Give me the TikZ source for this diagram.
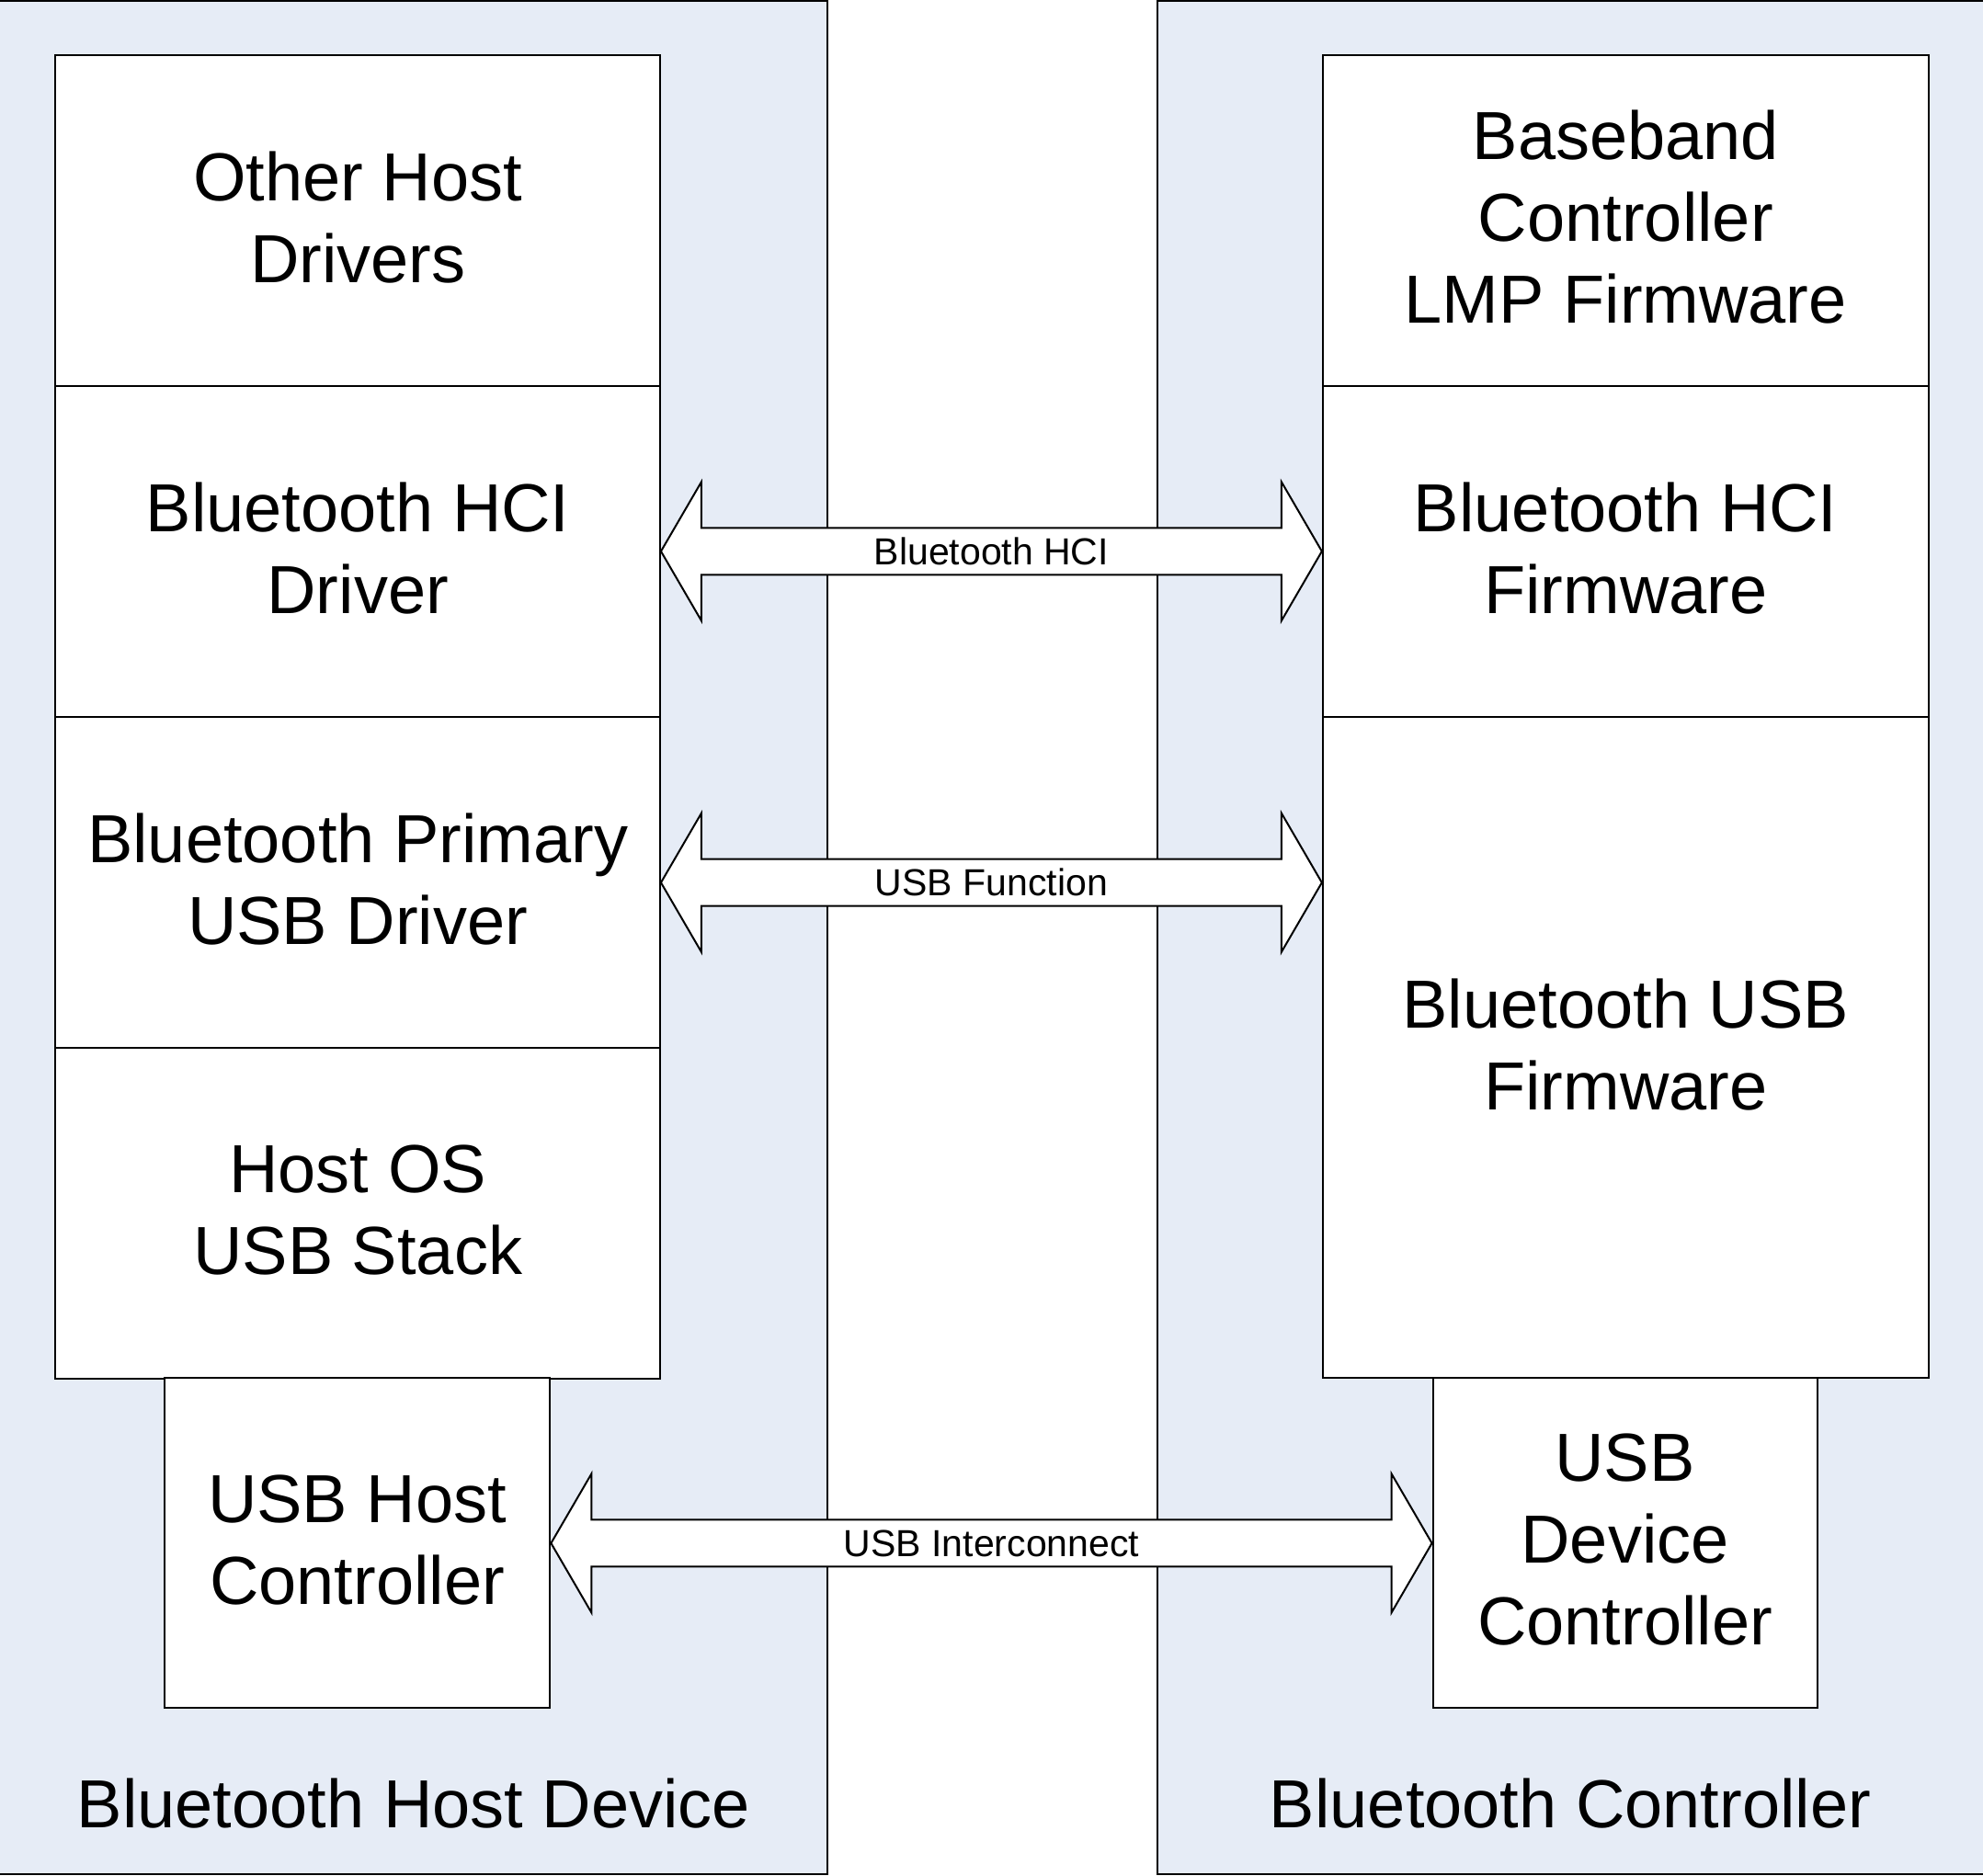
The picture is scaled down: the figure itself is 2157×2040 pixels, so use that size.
\documentclass[tikz,border=0pt]{standalone}
\usepackage{fontspec}
\setmainfont{Liberation Sans}
\usetikzlibrary{calc}
\definecolor{panelblue}{RGB}{230,236,246}
\tikzset{
  panel/.style={fill=panelblue, draw=black, line width=2pt},
  blk/.style={draw=black, fill=white, line width=2pt, inner sep=0pt, align=center,
    font=\fontsize{74}{89}\selectfont},
  blktext/.style={inner sep=0pt, align=center, font=\fontsize{74}{89}\selectfont},
  arrowshape/.style={draw=black, fill=white, line width=2pt, line join=miter},
  arrlabel/.style={font=\fontsize{41}{48}\selectfont, inner sep=0pt},
  paneltitle/.style={font=\fontsize{74}{89}\selectfont, inner sep=0pt, anchor=base}
}
\newcommand{\dblarr}[3]{%
  \coordinate (L) at (#1.east);
  \coordinate (R) at (#1.east -| #2.west);
  \draw[arrowshape] (L) -- ++(44,-75.6) -- ++(0,50.1) -- ($(R)+(-44,-25.5)$) -- ++(0,-50.1) -- (R)
     -- ++(-44,75.6) -- ++(0,-50.1) -- ($(L)+(44,25.5)$) -- ++(0,50.1) -- cycle;
  \node[arrlabel] at ($(L)!0.5!(R)$) {#3};}
\newcommand{\blkbox}[6]{%
  \node[blk, minimum width=#4pt, minimum height=#5pt] (#1) at (#2,#3) {};
  \node[blktext] at ($(#1.center)+(0,-3.5)$) {#6};}
\begin{document}
\begin{tikzpicture}[x=1pt,y=-1pt]
\useasboundingbox (0,0) rectangle (2157,2040);
\path[panel] (-5,1) rectangle (900,2039);
\path[panel] (1259,1) rectangle (2165,2039);
% left stack
\blkbox{ohd}{389.2}{240}{657.5}{359.7}{Other Host\\Drivers}
\blkbox{hcid}{389.2}{599.8}{657.5}{359.7}{Bluetooth HCI\\Driver}
\blkbox{usbd}{389.2}{960.2}{657.5}{359.7}{Bluetooth Primary\\USB Driver}
\blkbox{os}{389.2}{1319.9}{657.5}{359.7}{Host OS\\USB Stack}
\blkbox{hc}{388.6}{1678.9}{419.6}{359}{USB Host\\Controller}
% right stack
\blkbox{bb}{1768.3}{240}{658.9}{359.7}{Baseband\\Controller\\LMP Firmware}
\blkbox{hcif}{1768.3}{599.8}{658.9}{359.7}{Bluetooth HCI\\Firmware}
\blkbox{usbf}{1768.3}{1139.7}{658.9}{719.4}{Bluetooth USB\\Firmware}
\blkbox{dc}{1767.6}{1678.9}{418.1}{359}{USB\\Device\\Controller}
% arrows
\dblarr{hcid}{hcif}{Bluetooth HCI}
\dblarr{usbd}{usbf}{USB Function}
\dblarr{hc}{dc}{USB Interconnect}
% titles
\node[paneltitle] (t1) at (450,1988) {Bluetooth Host Device};
\node[paneltitle] (t2) at (1708,1988) {Bluetooth Controller};
\end{tikzpicture}
\end{document}
